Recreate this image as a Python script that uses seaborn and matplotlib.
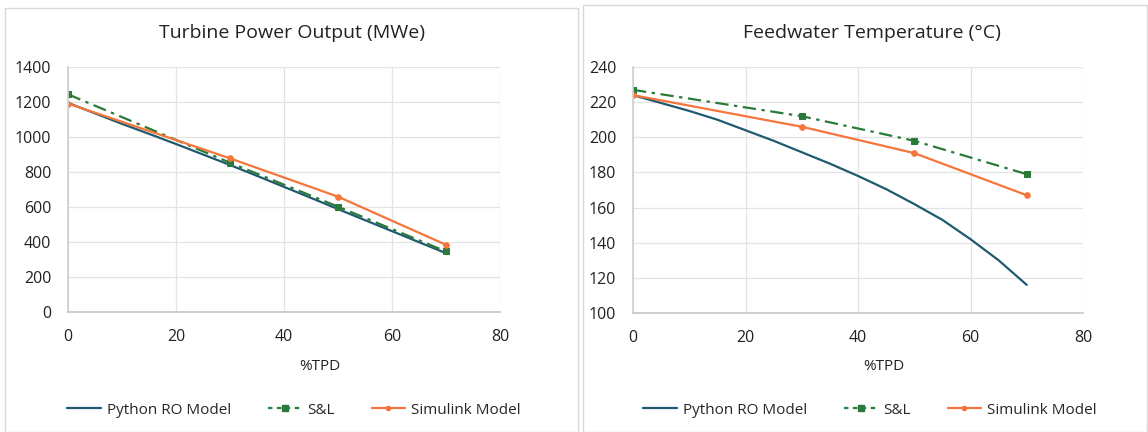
import matplotlib
matplotlib.use("Agg")
import matplotlib.pyplot as plt
import seaborn as sns
import pandas as pd
from matplotlib.patches import Rectangle
from matplotlib.lines import Line2D

sns.set_theme(style="white")
plt.rcParams['font.family'] = ['Open Sans', 'DejaVu Sans']

# Data
tpd_fine = [0, 5, 10, 15, 20, 25, 30, 35, 40, 45, 50, 55, 60, 65, 70]
tpd_pts = [0, 30, 50, 70]

power_python = [1195, 1135, 1075, 1018, 960, 900, 840, 778, 715, 652, 588, 525, 462, 399, 336]
power_sl = [1244, 853, 602, 346]
power_sim = [1191, 878, 659, 384]

temp_python = [224, 219.5, 215, 210, 204, 198, 191.5, 185, 178, 170.5, 162, 153, 142, 130, 116]
temp_sl = [227, 212, 198, 179]
temp_sim = [224, 206, 191, 167]

titles = ["Turbine Power Output (MWe)", "Feedwater Temperature (°C)"]
series_names = ["Python RO Model", "S&L", "Simulink Model"]

c_py = "#1f5a70"
c_sl = "#2a7a3a"
c_sim = "#f4763a"

W, H = 1148, 432
fig = plt.figure(figsize=(W / 100, H / 100), dpi=100)

def fx(px):
    return px / W

def fy(py):
    return 1 - py / H

# panel borders
for (x0, y0, x1, y1) in [(5, 8, 578, 432), (583, 5, 1147, 432)]:
    fig.patches.append(Rectangle((fx(x0), fy(y1)), fx(x1 - x0), fy(y0) - fy(y1),
                                 transform=fig.transFigure, fill=False,
                                 edgecolor="#d9d9d9", linewidth=1))

panels = [
    dict(px=(68, 500), py=(67, 312), ylim=(0, 1400), yticks=range(0, 1401, 200),
         py_data=power_python, sl=power_sl, sim=power_sim, title=titles[0],
         tx=292, lx=320, gx=294),
    dict(px=(633, 1083), py=(67, 313), ylim=(100, 240), yticks=range(100, 241, 20),
         py_data=temp_python, sl=temp_sl, sim=temp_sim, title=titles[1],
         tx=872, lx=884, gx=870),
]

for p in panels:
    x0, x1 = p["px"]
    y0, y1 = p["py"]
    ax = fig.add_axes([fx(x0), fy(y1), fx(x1 - x0), fy(y0) - fy(y1)])
    df_py = pd.DataFrame({"x": tpd_fine, "y": p["py_data"]})
    df_sl = pd.DataFrame({"x": tpd_pts, "y": p["sl"]})
    df_sim = pd.DataFrame({"x": tpd_pts, "y": p["sim"]})
    sns.lineplot(data=df_py, x="x", y="y", ax=ax, color=c_py, linewidth=1.6)
    sns.lineplot(data=df_sl, x="x", y="y", ax=ax, color=c_sl, linewidth=1.6,
                 linestyle=(0, (6, 2.5, 1.5, 2.5)), marker="s", markersize=5,
                 markeredgecolor=c_sl)
    sns.lineplot(data=df_sim, x="x", y="y", ax=ax, color=c_sim, linewidth=1.6,
                 marker="o", markersize=4, markeredgecolor=c_sim)
    ax.set_xlim(0, 80)
    ax.set_ylim(*p["ylim"])
    ax.set_xticks(range(0, 81, 20))
    ax.set_yticks(list(p["yticks"]))
    ax.grid(True, color="#e3e3e3", linewidth=0.9)
    ax.set_axisbelow(True)
    for s in ["top", "right"]:
        ax.spines[s].set_visible(False)
    ax.spines["left"].set_color("#d0d0d0")
    ax.spines["bottom"].set_color("#c8c8c8")
    ax.tick_params(axis="y", labelsize=11.5, colors="#222222", length=0, pad=12)
    ax.tick_params(axis="x", labelsize=11.5, colors="#222222", length=0, pad=12)
    ax.set_xlabel("")
    ax.set_ylabel("")
    fig.text(fx(p["tx"]), fy(33), p["title"], ha="center", va="center",
             fontsize=14, color="#222222")
    fig.text(fx(p["lx"]), fy(366), "%TPD", ha="center", va="center", fontsize=11, color="#222222")
    handles = [
        Line2D([0], [0], color=c_py, linewidth=1.6),
        Line2D([0], [0], color=c_sl, linewidth=1.6, linestyle=(0, (2, 2)), marker="s", markersize=4),
        Line2D([0], [0], color=c_sim, linewidth=1.6, marker="o", markersize=3),
    ]
    fig.legend(handles, series_names, loc="center", ncol=3,
               bbox_to_anchor=(fx(p["gx"]), fy(410)), frameon=False, fontsize=11,
               handlelength=2.2, handletextpad=0.4, columnspacing=2.4)

fig.savefig("out.png", dpi=100)
